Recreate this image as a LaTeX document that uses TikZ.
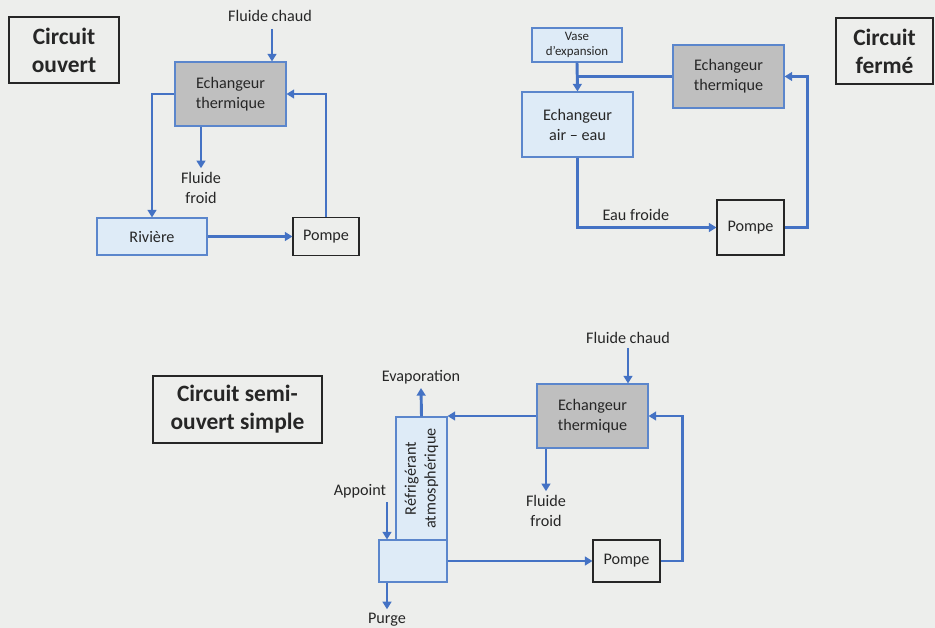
\documentclass[tikz,border=0pt]{standalone}
\usepackage{fontspec}
\setmainfont{Carlito}
\usetikzlibrary{arrows.meta,positioning,calc}
\definecolor{fondgris}{HTML}{EDEEEC}
\definecolor{bleuflux}{HTML}{4472C4}
\definecolor{bleuclair}{HTML}{DEEBF7}
\definecolor{bordbleu}{HTML}{5B86CC}
\definecolor{grisech}{HTML}{BFBFBF}
\definecolor{texte}{HTML}{262626}

\begin{document}
\begin{tikzpicture}[x=0.03cm, y=-0.03cm, every node/.style={text=texte},
    pipe/.style={bleuflux, line width=2.5pt},
    flow/.style={pipe, -{Triangle[length=6.5pt,width=7.5pt]}},
    titre/.style={draw=black!85, line width=0.9pt, align=center, font=\fontsize{20}{24}\selectfont\bfseries},
    lbl/.style={align=center, font=\fontsize{13.8}{17}\selectfont},
    echbox/.style={lbl, draw=bordbleu, fill=grisech, line width=0.9pt, minimum width=3.33cm, minimum height=1.92cm},
    eaubox/.style={lbl, draw=bordbleu, fill=bleuclair, line width=0.9pt},
    pompebox/.style={lbl, draw=black!85, line width=0.9pt, minimum width=2.01cm}]

    \fill [fondgris] (0,0) rectangle (935,628);
    \useasboundingbox (0,0) rectangle (935,628);

    % circuit ouvert
    \node [titre, minimum width=3.3cm, minimum height=1.98cm] at (64,50) (titre1) {Circuit\\ouvert};
    \node [lbl] at (270,16) (chaud1) {Fluide chaud};
    \node [echbox] at (230.5,94) (ech1) {Echangeur\\thermique};
    \node [lbl] at (201,188) (froid1) {Fluide\\froid};
    \node [eaubox, minimum width=3.3cm, minimum height=1.11cm] at (152,236.5) (riv) {Rivière};
    \node [pompebox, minimum width=1.98cm, minimum height=1.14cm] at (326,236.5) (pomp1) {Pompe};

    \draw [flow] (272,29) -- (272,29 |- ech1.north);
    \draw [flow] (froid1.north |- ech1.south) -- (froid1.north);
    \draw [flow] (ech1.west) -| (riv.north);
    \draw [flow] (riv.east) -- (pomp1.west);
    \draw [flow] (pomp1.north) |- (ech1.east);

    % circuit ferme
    \node [titre, minimum width=2.91cm, minimum height=1.98cm] at (884.5,51) (titre2) {Circuit\\fermé};
    \node [eaubox, font=\fontsize{11}{13}\selectfont, minimum width=2.7cm, minimum height=1.02cm] at (577,45) (vase) {Vase\\d’expansion};
    \node [eaubox, minimum width=3.33cm, minimum height=1.95cm] at (577.5,124.5) (air) {Echangeur\\air – eau};
    \node [echbox, minimum height=1.89cm] at (728.5,76.5) (ech2) {Echangeur\\thermique};
    \node [pompebox, minimum height=1.65cm] at (750.5,227.5) (pomp2) {Pompe};

    \draw [flow] (vase.south) -- (air.north);
    \draw [pipe] (ech2.west) -- (ech2.west -| vase.south);
    \draw [flow] (air.south) |- (pomp2.west) node [lbl, pos=0.71, above=1pt] (eaufroide) {Eau froide};
    \draw [flow] (pomp2.east) -- ++(23,0) |- (ech2.east);

    % circuit semi-ouvert
    \node [titre, minimum width=5.07cm, minimum height=2.01cm] at (237.5,409.5) (titre3) {Circuit semi-\\ouvert simple};
    \node [lbl] at (628,338) (chaud3) {Fluide chaud};
    \node [echbox] at (592.5,416) (ech3) {Echangeur\\thermique};
    \node [lbl] at (546,511) (froid3) {Fluide\\froid};
    \node [eaubox, rotate=90, minimum width=3.69cm, minimum height=1.53cm] at (421.5,478.5) (refr) {Réfrigérant\\atmosphérique};
    \node [eaubox, minimum width=2.04cm, minimum height=1.26cm] at (413,561) (bassin) {};
    \node [pompebox, minimum height=1.26cm] at (626.5,561) (pomp3) {Pompe};
    \node [lbl] at (421,377) (evap) {Evaporation};
    \node [lbl] at (360,491) (appoint) {Appoint};
    \node [lbl] at (387,620) (purge) {Purge};
    \coordinate (entree) at (387,502);

    \draw [flow] (chaud3.south) -- (chaud3.south |- ech3.north);
    \draw [flow] (froid3.north |- ech3.south) -- (froid3.north);
    \draw [flow] (ech3.west) -- (ech3.west -| refr.south);
    \draw [flow] (refr.east) -- (evap.south);
    \draw [flow] (entree) -- (entree |- bassin.north);
    \draw [flow] (purge.north |- bassin.south) -- (purge.north);
    \draw [flow] (bassin.east) -- (pomp3.west);
    \draw [flow] (pomp3.east) -- ++(22,0) |- (ech3.east);
\end{tikzpicture}
\end{document}
